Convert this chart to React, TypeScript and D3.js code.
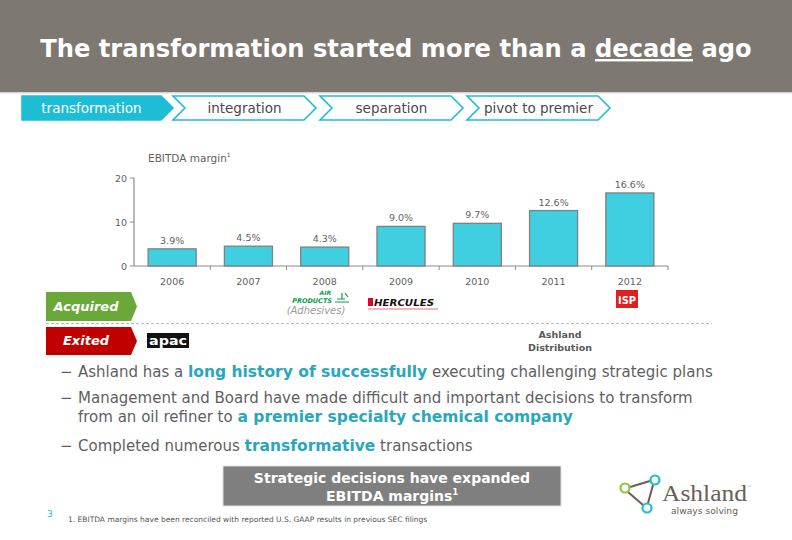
import React, { useEffect } from "react";
import * as d3 from "d3";

const years = ["2006", "2007", "2008", "2009", "2010", "2011", "2012"];
const margins = [3.9, 4.5, 4.3, 9.0, 9.7, 12.6, 16.6];
const yTicks = [0, 10, 20];
const phases = ["transformation", "integration", "separation", "pivot to premier"];

const FONT = "'DejaVu Sans', sans-serif";
const CYAN = "#1ebdd6";
const TEAL = "#2aa7be";
const GREY_TXT = "#5f5f5f";

const W = 792;
const H = 540;

const chevron = (x0: number, x1: number, y0: number, y1: number, d: number, notch: boolean) => {
  const ym = (y0 + y1) / 2;
  const pts = [[x0, y0], [x1, y0], [x1 + d, ym], [x1, y1], [x0, y1]];
  if (notch) pts.push([x0 + d, ym]);
  return pts.map((p) => p.join(",")).join(" ");
};

const App = () => {
  useEffect(() => {
    document.body.style.margin = "0";
  }, []);

  const x = d3.scaleBand().domain(years).range([134, 668]).paddingInner(0.37).paddingOuter(0.185);
  const y = d3.scaleLinear().domain([0, 20]).range([266, 178]);

  // phase chevrons laid out along the top
  const phaseX = d3.scaleLinear().domain([0, phases.length]).range([22, 610]);

  return (
    <svg width={W} height={H} style={{ display: "block", fontFamily: FONT }}>
      <rect x={0} y={0} width={W} height={H} fill="#fff" />
      {/* header band */}
      <rect x={0} y={0} width={W} height={92} fill="#7d7872" />
      <rect x={0} y={92} width={W} height={1.5} fill="#d9d6d2" />
      <text x={396} y={57} textAnchor="middle" fill="#fff" fontWeight="bold" fontSize={24.2}>
        The transformation started more than a{" "}
        <tspan style={{ textDecoration: "underline" }}>decade</tspan> ago
      </text>

      {/* phases */}
      {phases.map((p, i) => {
        const first = i === 0;
        const x0 = phaseX(i) + (first ? 0 : 4);
        const x1 = phaseX(i + 1) - 12 + (first ? 4 : 0);
        return (
          <g key={p}>
            <polygon
              points={chevron(x0, x1, 96, 120, 12, !first)}
              fill={first ? CYAN : "#fff"}
              stroke={CYAN}
              strokeWidth={1.6}
            />
            <text
              x={(x0 + x1 + (first ? 0 : 12)) / 2}
              y={113}
              textAnchor="middle"
              fontSize={13.5}
              fill={first ? "#fff" : "#4a4a4a"}
            >
              {p}
            </text>
          </g>
        );
      })}

      {/* chart */}
      <text x={148} y={162} fontSize={10.5} fill={GREY_TXT}>
        EBITDA margin<tspan fontSize={6} dy={-5}>1</tspan>
      </text>
      <line x1={x.range()[0]} x2={x.range()[1]} y1={y(0)} y2={y(0)} stroke="#8c8c8c" strokeWidth={1.2} />
      <line x1={x.range()[0]} x2={x.range()[0]} y1={y(0)} y2={y(20)} stroke="#8c8c8c" strokeWidth={1.2} />
      {yTicks.map((t) => (
        <g key={t}>
          <line x1={x.range()[0] - 4} x2={x.range()[0]} y1={y(t)} y2={y(t)} stroke="#8c8c8c" />
          <text x={x.range()[0] - 7} y={y(t) + 3.5} textAnchor="end" fontSize={9.5} fill={GREY_TXT}>
            {t}
          </text>
        </g>
      ))}
      {years.map((yr, i) => {
        const bx = x(yr) as number;
        const bw = x.bandwidth();
        const edge = bx - (x.step() - bw) / 2;
        return (
          <g key={yr}>
            {i > 0 && <line x1={edge} x2={edge} y1={y(0)} y2={y(0) + 4} stroke="#8c8c8c" />}
            <rect x={bx} y={y(margins[i])} width={bw} height={y(0) - y(margins[i])} fill="#3fcfe0" stroke="#808080" strokeWidth={1.3} />
            <text x={bx + bw / 2} y={y(margins[i]) - 5} textAnchor="middle" fontSize={9.5} fill={GREY_TXT}>
              {margins[i].toFixed(1)}%
            </text>
            <text x={bx + bw / 2} y={285} textAnchor="middle" fontSize={9.5} fill={GREY_TXT}>
              {yr}
            </text>
          </g>
        );
      })}
      <line x1={x.range()[1]} x2={x.range()[1]} y1={y(0)} y2={y(0) + 4} stroke="#8c8c8c" />

      {/* acquired / exited */}
      <polygon points={chevron(46, 131, 292, 321, 6, false)} fill="#6aa83a" />
      <text x={86} y={311} textAnchor="middle" fill="#fff" fontWeight="bold" fontStyle="italic" fontSize={13}>
        Acquired
      </text>
      <line x1={46} x2={712} y1={323.5} y2={323.5} stroke="#bdbdbd" strokeWidth={1.2} strokeDasharray="3,2" />
      <polygon points={chevron(46, 131, 327, 355, 6, false)} fill="#c00000" />
      <text x={86} y={345} textAnchor="middle" fill="#fff" fontWeight="bold" fontStyle="italic" fontSize={13}>
        Exited
      </text>

      {/* Air Products */}
      <g fill="#0a9a4a" fontWeight="bold" fontStyle="italic">
        <text x={331} y={294.5} textAnchor="end" fontSize={6}>AIR</text>
        <text x={332} y={303} textAnchor="end" fontSize={6.5}>PRODUCTS</text>
        <path d="M335,302 h14 M337,299 h8 M342,293 v6 M345,293 l3,4" stroke="#0a9a4a" strokeWidth={1.2} fill="none" />
      </g>
      <text x={316} y={314} textAnchor="middle" fontSize={10} fontStyle="italic" fill="#9a9a9a">
        (Adhesives)
      </text>

      {/* Hercules */}
      <rect x={368} y={298} width={5} height={8} fill="#e0002a" />
      <text x={374} y={306} fontSize={9.5} fontWeight="bold" fontStyle="italic" fill="#111" textLength={60} lengthAdjust="spacingAndGlyphs">
        HERCULES
      </text>
      <line x1={368} x2={438} y1={309} y2={309} stroke="#f06a7a" strokeWidth={1.2} />

      {/* ISP */}
      <rect x={616} y={290} width={22} height={18} fill="#e02020" />
      <text x={627} y={303.5} textAnchor="middle" fontSize={10} fontWeight="bold" fill="#fff" textLength={18} lengthAdjust="spacingAndGlyphs">
        ISP
      </text>

      {/* apac */}
      <rect x={147} y={333} width={42} height={15} fill="#111" />
      <text x={168} y={345} textAnchor="middle" fontSize={13} fontWeight="bold" fill="#fff" textLength={38} lengthAdjust="spacingAndGlyphs">
        apac
      </text>

      {/* Ashland Distribution */}
      <text x={560} y={338} textAnchor="middle" fontSize={9.5} fontWeight="bold" fill="#595959">Ashland</text>
      <text x={560} y={351} textAnchor="middle" fontSize={9.5} fontWeight="bold" fill="#595959">Distribution</text>

      {/* bullets */}
      <g fontSize={15} fill={GREY_TXT}>
        <text x={60} y={377}>−</text>
        <text x={78} y={377}>
          Ashland has a <tspan fill={TEAL} fontWeight="bold" fontSize={15.5}>long history of successfully</tspan> executing challenging strategic plans
        </text>
        <text x={60} y={403}>−</text>
        <text x={78} y={403}>Management and Board have made difficult and important decisions to transform</text>
        <text x={78} y={422}>
          from an oil refiner to <tspan fill={TEAL} fontWeight="bold" fontSize={15.5}>a premier specialty chemical company</tspan>
        </text>
        <text x={60} y={451}>−</text>
        <text x={78} y={451}>
          Completed numerous <tspan fill={TEAL} fontWeight="bold" fontSize={15.5}>transformative</tspan> transactions
        </text>
      </g>

      {/* bottom box */}
      <rect x={223} y={466} width={338} height={40} fill="#7f7f7f" stroke="#e0e0e0" />
      <text x={392} y={483} textAnchor="middle" fill="#fff" fontWeight="bold" fontSize={14}>
        Strategic decisions have expanded
      </text>
      <text x={392} y={501} textAnchor="middle" fill="#fff" fontWeight="bold" fontSize={14}>
        EBITDA margins<tspan fontSize={8} dy={-6}>1</tspan>
      </text>

      <text x={47} y={517} fontSize={9} fill={CYAN}>3</text>
      <text x={68} y={522} fontSize={7.5} fill="#555">
        1. EBITDA margins have been reconciled with reported U.S. GAAP results in previous SEC filings
      </text>

      {/* Ashland logo */}
      <g>
        <line x1={630} y1={487} x2={650} y2={481} stroke="#6b5e55" strokeWidth={2} />
        <line x1={628} y1={492} x2={643} y2={505} stroke="#6b5e55" strokeWidth={2} />
        <line x1={653} y1={485} x2={648} y2={503} stroke="#6b5e55" strokeWidth={2} />
        <circle cx={625} cy={488} r={4.5} fill="#fff" stroke="#8cc63f" strokeWidth={2.2} />
        <circle cx={655} cy={480} r={4.5} fill="#fff" stroke="#1ebdd6" strokeWidth={2.2} />
        <circle cx={647} cy={508} r={4.5} fill="#fff" stroke="#1ebdd6" strokeWidth={2.2} />
        <text x={662} y={501} fontFamily="'Liberation Serif', serif" fontSize={23} fill="#6b5e55" textLength={85} lengthAdjust="spacingAndGlyphs">
          Ashland
        </text>
        <text x={748} y={488} fontSize={3} fill="#6b5e55">™</text>
        <text x={671} y={514} fontSize={9.5} fill="#6b5e55" textLength={67} lengthAdjust="spacingAndGlyphs">
          always solving
        </text>
      </g>
    </svg>
  );
};

export default App;
